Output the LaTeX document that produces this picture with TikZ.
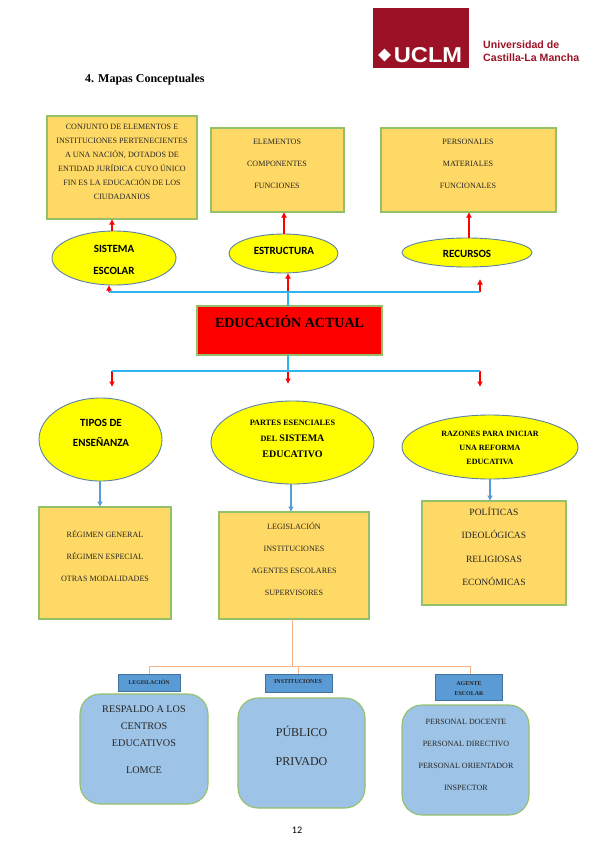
\documentclass[tikz,border=0pt]{standalone}
\usepackage{fontspec}
\setmainfont{Liberation Serif}
\newfontfamily\carlito{Carlito}
\newfontfamily\arialf{Liberation Sans}
\usetikzlibrary{arrows.meta,shapes.geometric}
\definecolor{boxfill}{HTML}{FFD966}
\definecolor{boxedge}{HTML}{94C06A}
\definecolor{ovaledge}{HTML}{5B82A6}
\definecolor{ovalfill}{HTML}{FFFF00}
\definecolor{mainred}{HTML}{FF0000}
\definecolor{busblue}{HTML}{2FB4EE}
\definecolor{softblue}{HTML}{5B9BD5}
\definecolor{softorange}{HTML}{F4B183}
\definecolor{roundfill}{HTML}{9DC3E6}
\definecolor{tagedge}{HTML}{41719C}
\definecolor{uclmred}{HTML}{9B1226}
\newcommand{\fs}[2]{\fontsize{#1}{#2}\selectfont}
\begin{document}
\begin{tikzpicture}[
  x=1pt, y=-1pt,
  infobox/.style={draw=boxedge, line width=1.4pt, fill=boxfill, inner sep=0pt, outer sep=0pt},
  oval/.style={ellipse, draw=ovaledge, line width=0.9pt, fill=ovalfill, inner sep=0pt, outer sep=0pt},
  roundbox/.style={draw=boxedge, line width=1.1pt, fill=roundfill, rounded corners=20pt, inner sep=0pt, outer sep=0pt},
  tagbox/.style={draw=tagedge, line width=0.8pt, fill=softblue, inner sep=0pt, outer sep=0pt},
  boxtext/.style={align=center, text=black!85, inner sep=0pt},
  ovaltext/.style={align=center, font=\carlito\bfseries\fs{11}{22}, inner sep=0pt},
  redarrow/.style={-{Latex[length=5.5pt,width=6pt]}, draw=mainred, fill=mainred, line width=1.2pt},
  bus/.style={draw=busblue, line width=1.1pt},
  bluearrow/.style={-{Latex[length=5.5pt,width=6pt]}, draw=softblue, fill=softblue, line width=1.2pt},
  orangeline/.style={draw=softorange, line width=1pt}
]
  \useasboundingbox (0,0) rectangle (599,848);

  % === HEADER ===
  \node[fill=uclmred, minimum width=96pt, minimum height=60pt, inner sep=0pt, outer sep=0pt] (logo) at (421,38) {};
  \node[white, font=\arialf\bfseries\fs{21.5}{22}, xscale=1.1, inner sep=0pt] (uclm) at (428,55) {UCLM};
  \node[diamond, fill=white, minimum width=13pt, minimum height=13pt, inner sep=0pt] (emblem) at (384.5,55) {};
  \node[text=uclmred, align=left, anchor=west, font=\arialf\bfseries\fs{10.6}{12.5}, inner sep=0pt] (uni) at (483,51) {Universidad de\\Castilla-La Mancha};
  \node[font=\bfseries\fs{12}{14}, anchor=west, inner sep=0pt] (title) at (85,79.5) {4. Mapas Conceptuales};

  % === TOP ROW: boxes ===
  \node[infobox, minimum width=150pt, minimum height=103pt] (conjunto) at (122,167.5) {};
  \node[boxtext, font=\fs{8.1}{14}] (conjuntotxt) at (122,161.5) {CONJUNTO DE ELEMENTOS E\\INSTITUCIONES PERTENECIENTES\\A UNA NACIÓN, DOTADOS DE\\ENTIDAD JURÍDICA CUYO ÚNICO\\FIN ES LA EDUCACIÓN DE LOS\\CIUDADANIOS};
  \node[infobox, minimum width=133pt, minimum height=84pt] (elementos) at (277.5,170) {};
  \node[boxtext, font=\fs{8.1}{22}] (elementostxt) at (277,164) {ELEMENTOS\\COMPONENTES\\FUNCIONES};
  \node[infobox, minimum width=175pt, minimum height=84pt] (personales) at (468.5,170) {};
  \node[boxtext, font=\fs{8.1}{22}] (personalestxt) at (468,164) {PERSONALES\\MATERIALES\\FUNCIONALES};

  % === TOP ROW: ovals ===
  \node[oval, minimum width=124pt, minimum height=54pt] (sistema) at (114,258) {};
  \node[ovaltext] (sistematxt) at (114,259.5) {SISTEMA\\ESCOLAR};
  \node[oval, minimum width=109pt, minimum height=39pt] (estructura) at (283.5,253.5) {};
  \node[ovaltext] (estructuratxt) at (284,250.5) {ESTRUCTURA};
  \node[oval, minimum width=130pt, minimum height=29pt] (recursos) at (467,252.5) {};
  \node[ovaltext] (recursostxt) at (467,253.5) {RECURSOS};

  % === CENTRE ===
  \node[infobox, fill=mainred, minimum width=185pt, minimum height=49pt] (educacion) at (289.5,330.5) {};
  \node[font=\bfseries\fs{14}{16}, inner sep=0pt] (educaciontxt) at (289.5,322) {EDUCACIÓN ACTUAL};

  % Upper bus
  \coordinate (busup) at (288,292);
  \coordinate (busupl) at (109,292);
  \coordinate (busupr) at (480,292);
  \coordinate (tipr) at (480,279);
  \draw[bus] (educacion.north -| busup) -- (busup);
  \draw[redarrow] (busupl) -- (busupl |- sistema.south);
  \draw[redarrow] (busup) -- (busup |- estructura.south);
  \draw[redarrow] (busupr) -- (tipr);
  \draw[bus] (busupl) -- (busupr);

  % Arrows to the top boxes
  \draw[redarrow] ([xshift=-2pt]sistema.north) -- ([xshift=-2pt]sistema.north |- conjunto.south);
  \draw[redarrow] ([xshift=0.5pt]estructura.north) -- ([xshift=0.5pt]estructura.north |- elementos.south);
  \draw[redarrow] ([xshift=2pt]recursos.north) -- ([xshift=2pt]recursos.north |- personales.south);

  % Lower bus
  \coordinate (busdown) at (288,371);
  \coordinate (busdownl) at (112,371);
  \coordinate (busdownr) at (480,371);
  \draw[bus] (educacion.south -| busdown) -- (busdown);
  \draw[redarrow] (busdownl) -- ++(0,16);
  \draw[redarrow] (busdown) -- ++(0,13);
  \draw[redarrow] (busdownr) -- ++(0,16);
  \draw[bus] (busdownl) -- (busdownr);

  % === MIDDLE ROW ===
  \node[oval, minimum width=123pt, minimum height=83pt] (tipos) at (100.5,439.5) {};
  \node[ovaltext, font=\carlito\bfseries\fs{11}{20}] (tipostxt) at (101,433) {TIPOS DE\\ENSEÑANZA};
  \node[oval, minimum width=163pt, minimum height=83pt] (partes) at (292.5,442.5) {};
  \node[align=center, font=\bfseries\fs{8.2}{16}, inner sep=0pt] (partestxt) at (292.5,439) {PARTES ESENCIALES\\DEL {\fs{10}{16}SISTEMA}\\{\fs{10}{16}EDUCATIVO}};
  \node[oval, minimum width=176pt, minimum height=64pt] (razones) at (490,447) {};
  \node[align=center, font=\bfseries\fs{8.05}{14}, inner sep=0pt] (razonestxt) at (490,448) {RAZONES PARA INICIAR\\UNA REFORMA\\EDUCATIVA};

  \node[infobox, minimum width=132pt, minimum height=112pt] (regimen) at (105,563) {};
  \node[boxtext, font=\fs{8.1}{22}] (regimentxt) at (105,556) {RÉGIMEN GENERAL\\RÉGIMEN ESPECIAL\\OTRAS MODALIDADES};
  \node[infobox, minimum width=150pt, minimum height=107pt] (legislacion) at (294,565.5) {};
  \node[boxtext, font=\fs{8.1}{22}] (legislaciontxt) at (294,559) {LEGISLACIÓN\\INSTITUCIONES\\AGENTES ESCOLARES\\SUPERVISORES};
  \node[infobox, minimum width=144pt, minimum height=104pt] (politicas) at (494,553) {};
  \node[boxtext, font=\fs{9.6}{23.5}] (politicastxt) at (494,546.5) {POLÍTICAS\\IDEOLÓGICAS\\RELIGIOSAS\\ECONÓMICAS};

  \draw[bluearrow] ([xshift=-0.5pt]tipos.south) -- ([xshift=-0.5pt]tipos.south |- regimen.north);
  \draw[bluearrow] ([xshift=-1.5pt]partes.south) -- ([xshift=-1.5pt]partes.south |- legislacion.north);
  \draw[bluearrow] (razones.south) -- (razones.south |- politicas.north);

  % === BOTTOM ROW ===
  \node[tagbox, minimum width=62pt, minimum height=17pt] (taglegis) at (149,682.5) {};
  \node[font=\bfseries\fs{5.8}{8}, inner sep=0pt, text=black!85] (taglegistxt) at (149,682.5) {LEGISLACIÓN};
  \node[tagbox, minimum width=67pt, minimum height=18pt] (taginst) at (298.5,683) {};
  \node[font=\bfseries\fs{6}{8}, inner sep=0pt, text=black!85] (taginsttxt) at (298,682) {INSTITUCIONES};
  \node[tagbox, minimum width=67pt, minimum height=26pt] (tagagente) at (468.5,687) {};
  \node[align=center, font=\bfseries\fs{6}{10}, inner sep=0pt, text=black!85] (tagagentetxt) at (469,688.5) {AGENTE\\ESCOLAR};

  \node[roundbox, minimum width=128pt, minimum height=110pt] (respaldo) at (144,749) {};
  \node[boxtext, font=\fs{10.2}{17.3}] (respaldotxt) at (144,739.5) {RESPALDO A LOS\\CENTROS\\EDUCATIVOS\\[9pt]LOMCE};
  \node[roundbox, minimum width=127pt, minimum height=110pt] (publico) at (301.5,753) {};
  \node[boxtext, font=\fs{12}{29}] (publicotxt) at (301.5,745.5) {PÚBLICO\\PRIVADO};
  \node[roundbox, minimum width=127pt, minimum height=110pt] (personal) at (465.5,760) {};
  \node[boxtext, font=\fs{8}{22}] (personaltxt) at (466,754.5) {PERSONAL DOCENTE\\PERSONAL DIRECTIVO\\PERSONAL ORIENTADOR\\INSPECTOR};

  % Orange tree
  \coordinate (tree) at (292,666);
  \coordinate (treer) at (470,666);
  \draw[orangeline] (legislacion.south -| tree) -- (tree);
  \draw[orangeline] (taglegis.north) |- (treer);
  \draw[orangeline] (treer) -- (treer |- tagagente.north);
  \draw[orangeline] (taginst.north |- tree) -- (taginst.north);

  % Page number
  \node[font=\carlito\fs{10}{12}, inner sep=0pt] (pagenum) at (297,830) {12};
\end{tikzpicture}
\end{document}
